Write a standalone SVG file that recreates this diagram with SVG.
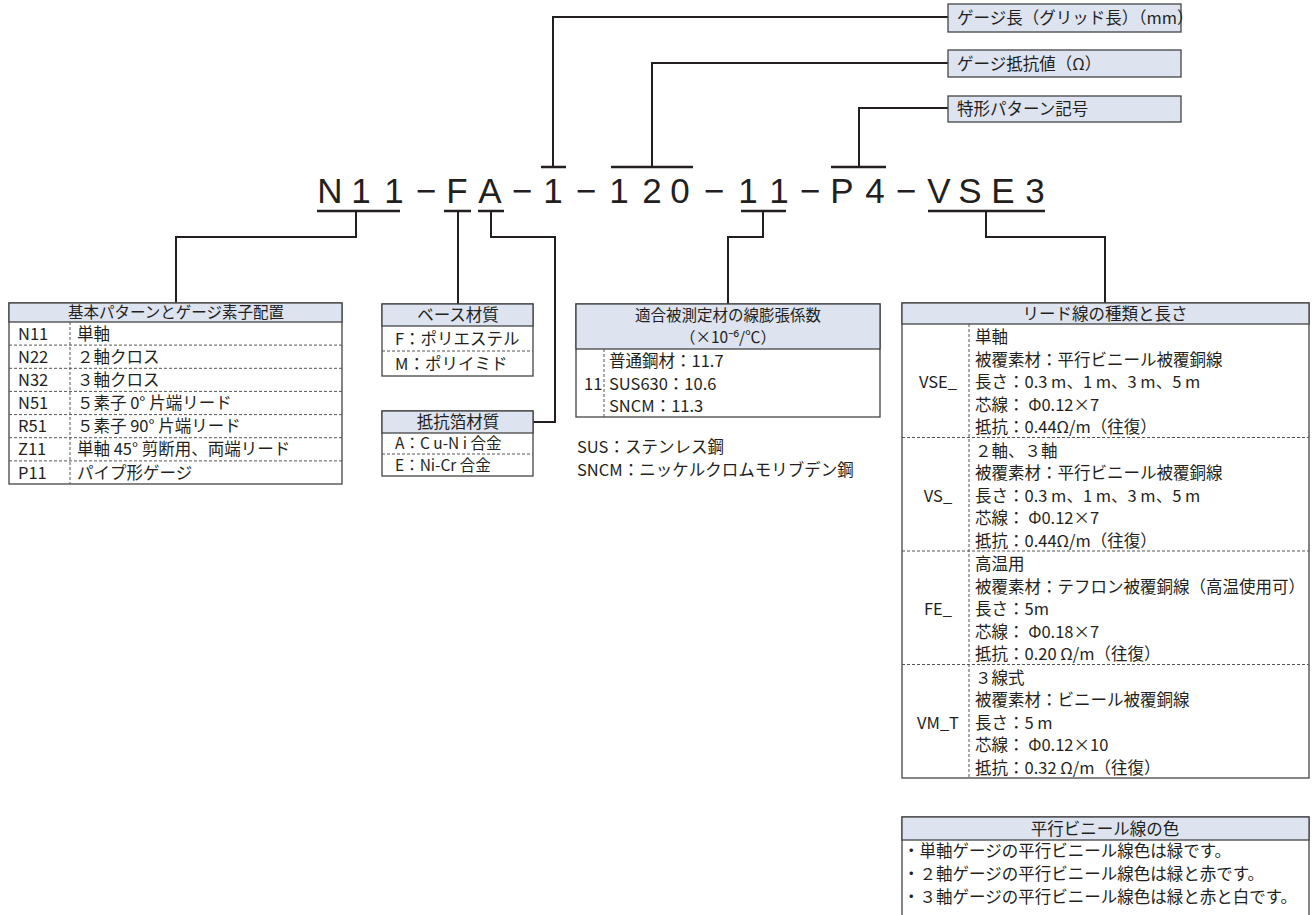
<svg xmlns="http://www.w3.org/2000/svg" width="1314" height="915" viewBox="0 0 1314 915">
<defs>
<style>
.t{font-family:"Noto Sans CJK JP","Noto Sans",sans-serif;font-size:16.5px;fill:#231f20}
.s{font-size:15.5px}
.c{text-anchor:middle}
.code{font-family:"Liberation Sans",Arial,sans-serif;font-size:35px;fill:#231f20;text-anchor:middle}
.box{fill:#fff;stroke:#444;stroke-width:1.3}
.hd{fill:#dde4f0;stroke:#444;stroke-width:1.3}
.dash{stroke:#555;stroke-width:1;stroke-dasharray:3 2;fill:none}
.ln{stroke:#231f20;stroke-width:2;fill:none}
.bar{stroke:#231f20;stroke-width:2.6;fill:none}
</style>
</defs>
<rect width="1314" height="915" fill="#fff"/>

<g id="connectors">
<path class="bar" d="M317 211H400M444 211H471M478 211H504M741 211H786M928 211H1045M541 167H566M611 167H693M831 167H886"/>
<path class="ln" d="M356 211V237H176V303"/>
<path class="ln" d="M458 211V304"/>
<path class="ln" d="M491 211V237H555V422H533"/>
<path class="ln" d="M763 211V237H728V304"/>
<path class="ln" d="M986 211V237H1105V303"/>
<path class="ln" d="M553 167V17H948"/>
<path class="ln" d="M652 167V63H948"/>
<path class="ln" d="M859 167V108H948"/>
</g>

<g id="code">
<text class="code" x="330 361 394 426 457 490 522 553 586 619 652 680 714 748 779 810 842 875 906 939 970 1003 1035" y="203">N11−FA−1−120−11−P4−VSE3</text>
</g>

<g id="label-length">
<rect class="hd" x="948" y="4" width="233" height="28"/>
<text class="t" x="957" y="24">ゲージ長（グリッド長）（mm）</text>
</g>
<g id="label-resistance">
<rect class="hd" x="948" y="50" width="233" height="27"/>
<text class="t" x="957" y="69.5">ゲージ抵抗値（Ω）</text>
</g>
<g id="label-special">
<rect class="hd" x="948" y="96" width="233" height="26"/>
<text class="t" x="957" y="115">特形パターン記号</text>
</g>

<g id="table-pattern">
<rect class="box" x="9" y="303" width="333" height="181"/>
<rect class="hd" x="9" y="303" width="333" height="19"/>
<text class="t c s" x="176" y="317.5">基本パターンとゲージ素子配置</text>
<path class="dash" d="M9 345.1H342M9 368.3H342M9 391.4H342M9 414.6H342M9 437.7H342M9 460.9H342M70 322V484"/>
<text class="t" x="18" y="340">N11</text><text class="t" x="77" y="340">単軸</text>
<text class="t" x="18" y="363">N22</text><text class="t" x="77" y="363">２軸クロス</text>
<text class="t" x="18" y="386">N32</text><text class="t" x="77" y="386">３軸クロス</text>
<text class="t" x="18" y="409">N51</text><text class="t" x="77" y="409">５素子 0° 片端リード</text>
<text class="t" x="18" y="432.2">R51</text><text class="t" x="77" y="432.2">５素子 90° 片端リード</text>
<text class="t" x="18" y="455.3">Z11</text><text class="t" x="77" y="455.3">単軸 45° 剪断用、両端リード</text>
<text class="t" x="18" y="478.5">P11</text><text class="t" x="77" y="478.5">パイプ形ゲージ</text>
</g>

<g id="table-base">
<rect class="box" x="382" y="304" width="151" height="72"/>
<rect class="hd" x="382" y="304" width="151" height="22"/>
<text class="t c" x="458" y="321">ベース材質</text>
<path class="dash" d="M382 351H533"/>
<text class="t" x="395" y="344.5">F：ポリエステル</text>
<text class="t" x="395" y="369.5">M：ポリイミド</text>
</g>

<g id="table-foil">
<rect class="box" x="382" y="411" width="151" height="65"/>
<rect class="hd" x="382" y="411" width="151" height="22"/>
<text class="t c" x="458" y="428">抵抗箔材質</text>
<path class="dash" d="M382 454H533"/>
<text class="t s" x="395" y="449">A：C u-N i 合金</text>
<text class="t s" x="395" y="471">E：Ni-Cr 合金</text>
</g>

<g id="table-expansion">
<rect class="box" x="576" y="304" width="304" height="113"/>
<rect class="hd" x="576" y="304" width="304" height="45"/>
<text class="t c s" x="728" y="320.5">適合被測定材の線膨張係数</text>
<text class="t c s" x="728" y="343">（×10⁻⁶/℃）</text>
<path class="dash" d="M604 349V417"/>
<text class="t" x="584" y="389.5">11</text>
<text class="t" x="609" y="367">普通鋼材：11.7</text>
<text class="t" x="609" y="389.5">SUS630：10.6</text>
<text class="t" x="609" y="412">SNCM：11.3</text>
</g>

<g id="notes">
<text class="t" x="577" y="453">SUS：ステンレス鋼</text>
<text class="t" x="577" y="476">SNCM：ニッケルクロムモリブデン鋼</text>
</g>

<g id="table-lead">
<rect class="box" x="902" y="303" width="407" height="475"/>
<rect class="hd" x="902" y="303" width="407" height="21"/>
<text class="t c" x="1105" y="319.5">リード線の種類と長さ</text>
<path class="dash" d="M902 437.5H1309M902 551H1309M902 664.5H1309M969 324V778"/>
<text class="t c" x="938" y="388">VSE_</text>
<text class="t" x="975" y="343">単軸</text>
<text class="t" x="975" y="365.5">被覆素材：平行ビニール被覆銅線</text>
<text class="t" x="975" y="388">長さ：0.3 m、1 m、3 m、5 m</text>
<text class="t" x="975" y="410.5">芯線： Φ0.12×7</text>
<text class="t" x="975" y="433">抵抗：0.44Ω/m（往復）</text>
<text class="t c" x="938" y="501.5">VS_</text>
<text class="t" x="975" y="456.5">２軸、３軸</text>
<text class="t" x="975" y="479">被覆素材：平行ビニール被覆銅線</text>
<text class="t" x="975" y="501.5">長さ：0.3 m、1 m、3 m、5 m</text>
<text class="t" x="975" y="524">芯線： Φ0.12×7</text>
<text class="t" x="975" y="546.5">抵抗：0.44Ω/m（往復）</text>
<text class="t c" x="938" y="615">FE_</text>
<text class="t" x="975" y="570">高温用</text>
<text class="t" x="975" y="592.5">被覆素材：テフロン被覆銅線（高温使用可）</text>
<text class="t" x="975" y="615">長さ：5m</text>
<text class="t" x="975" y="637.5">芯線： Φ0.18×7</text>
<text class="t" x="975" y="660">抵抗：0.20 Ω/m（往復）</text>
<text class="t c" x="938" y="728.5">VM_T</text>
<text class="t" x="975" y="683.5">３線式</text>
<text class="t" x="975" y="706">被覆素材：ビニール被覆銅線</text>
<text class="t" x="975" y="728.5">長さ：5 m</text>
<text class="t" x="975" y="751">芯線： Φ0.12×10</text>
<text class="t" x="975" y="773.5">抵抗：0.32 Ω/m（往復）</text>
</g>

<g id="table-color">
<rect class="box" x="902" y="817" width="407" height="120"/>
<rect class="hd" x="902" y="817" width="407" height="23"/>
<text class="t c" x="1105" y="834.5">平行ビニール線の色</text>
<text class="t" x="903" y="857">・単軸ゲージの平行ビニール線色は緑です。</text>
<text class="t" x="903" y="880">・２軸ゲージの平行ビニール線色は緑と赤です。</text>
<text class="t" x="903" y="903">・３軸ゲージの平行ビニール線色は緑と赤と白です。</text>
</g>
</svg>
